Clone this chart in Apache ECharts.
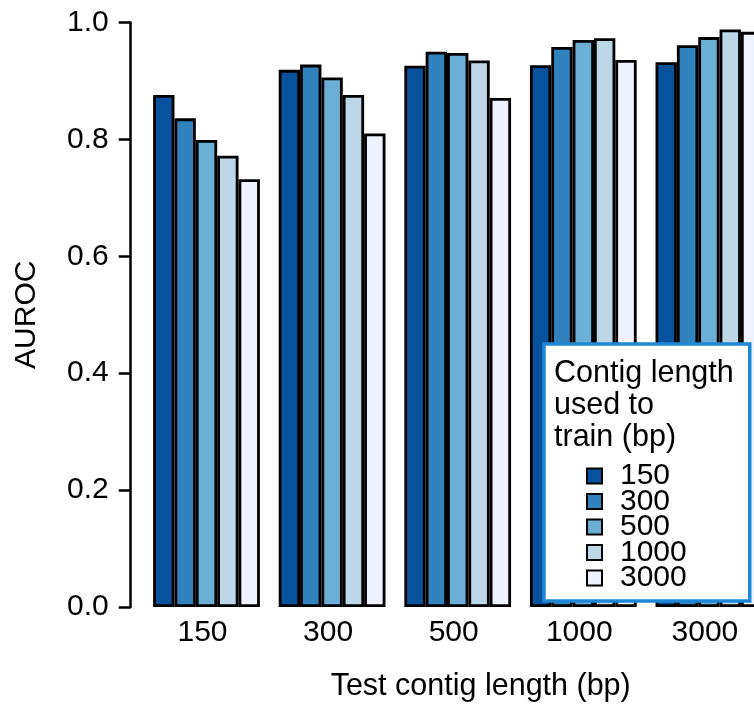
<!DOCTYPE html>
<html>
<head>
<meta charset="utf-8">
<script src="https://cdn.jsdelivr.net/npm/echarts@6/dist/echarts.min.js"></script>
<style>
html,body{margin:0;padding:0;background:#fff;}
#chart{width:754px;height:706px;}
</style>
</head>
<body>
<div id="chart"></div>
<script>
// Test contig length (x categories)
const categories = ['150', '300', '500', '1000', '3000'];
// Training contig length (series names)
const trainLengths = ['150', '300', '500', '1000', '3000'];
// AUROC values per training length, one value per test length
const train150  = [0.876, 0.919, 0.926, 0.927, 0.932];
const train300  = [0.836, 0.928, 0.950, 0.958, 0.961];
const train500  = [0.799, 0.906, 0.948, 0.970, 0.975];
const train1000 = [0.772, 0.876, 0.935, 0.973, 0.988];
const train3000 = [0.732, 0.810, 0.871, 0.936, 0.984];
const yTicks = [0.0, 0.2, 0.4, 0.6, 0.8, 1.0];

const seriesValues = [train150, train300, train500, train1000, train3000];
const colors = ['#08519c', '#3182bd', '#6baed6', '#bdd7e7', '#eff3ff'];
const FONT = "'Liberation Sans', Arial, sans-serif";

const chart = echarts.init(document.getElementById('chart'), null, {renderer: 'canvas'});
chart.setOption({
  animation: false,
  backgroundColor: '#ffffff',
  textStyle: {fontFamily: FONT},
  title: {
    text: 'Contig length\nused to\ntrain (bp)',
    left: 554,
    top: 358,
    padding: 0,
    z: 10,
    textStyle: {fontFamily: FONT, fontSize: 30.5, fontWeight: 'normal', color: '#000', lineHeight: 32}
  },
  legend: {
    orient: 'vertical',
    left: 544,
    top: 344,
    padding: [117, 63, 8, 42],
    itemWidth: 15,
    itemHeight: 15,
    itemGap: -4.5,
    icon: 'rect',
    backgroundColor: '#ffffff',
    borderColor: '#1e88d6',
    borderWidth: 3.5,
    borderRadius: 0,
    z: 5,
    itemStyle: {borderColor: '#000', borderWidth: 2},
    textStyle: {fontFamily: FONT, fontSize: 30, color: '#000', padding: [0, 0, 0, 13]},
    data: trainLengths
  },
  grid: {left: 143.7, right: -17.7, top: 22.5, bottom: 99, containLabel: false, outerBoundsMode: 'none'},
  xAxis: {
    type: 'category',
    data: categories,
    name: 'Test contig length (bp)',
    nameLocation: 'middle',
    nameGap: 64,
    nameTextStyle: {fontFamily: FONT, fontSize: 30.5, color: '#000', padding: [0, 0, 0, 46]},
    axisLine: {show: false},
    axisTick: {show: false},
    axisLabel: {fontFamily: FONT, fontSize: 30, color: '#000', margin: 11, padding: [0, 8, 0, 0]},
    splitLine: {show: false}
  },
  yAxis: {
    type: 'value',
    min: yTicks[0],
    max: yTicks[yTicks.length - 1],
    interval: 0.2,
    offset: 13,
    name: 'AUROC',
    nameLocation: 'middle',
    nameGap: 89,
    nameTextStyle: {fontFamily: FONT, fontSize: 30, color: '#000', padding: [0, 0, 0, 0]},
    axisLine: {show: true, lineStyle: {color: '#000', width: 2.5}},
    axisTick: {show: true, length: 12, lineStyle: {color: '#000', width: 2.5}},
    axisLabel: {fontFamily: FONT, fontSize: 30, color: '#000', margin: 22,
      formatter: v => v.toFixed(1)},
    splitLine: {show: false}
  },
  series: trainLengths.map((name, i) => ({
    name: name,
    type: 'bar',
    data: seriesValues[i],
    barGap: '0%',
    barCategoryGap: '15%',
    itemStyle: {color: colors[i], borderColor: '#000', borderWidth: 2.8},
    emphasis: {disabled: true}
  }))
});
</script>
</body>
</html>
